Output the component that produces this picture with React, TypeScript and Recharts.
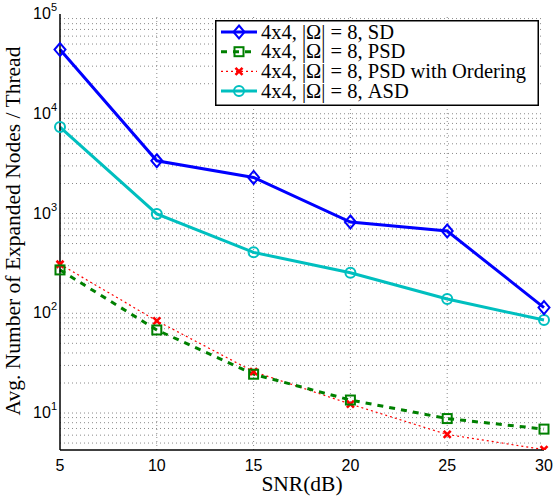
import { LineChart, Line, XAxis, YAxis, ReferenceLine } from 'recharts';
import type { ReactElement } from 'react';

const snr = [5, 10, 15, 20, 25, 30];
const sd = [44000, 3380, 2300, 822, 668, 114];
const psd = [272, 68, 24.5, 13.5, 8.8, 6.9];
const psdOrdering = [310, 84, 26, 12.3, 6.1, 4.3];
const asd = [7360, 990, 408, 255, 139, 85.5];

const xTicks = [5, 10, 15, 20, 25, 30];
const yTicks = [10, 100, 1000, 10000, 100000];
const yMin = 4.26;
const yMax = 100000;

const seriesNames = [
  '4x4, |\u03a9| = 8, SD',
  '4x4, |\u03a9| = 8, PSD',
  '4x4, |\u03a9| = 8, PSD with Ordering',
  '4x4, |\u03a9| = 8, ASD',
];

const data = snr.map((x, i) => ({
  snr: x,
  sd: sd[i],
  psd: psd[i],
  psdOrd: psdOrdering[i],
  asd: asd[i],
}));

// minor grid: 1..9 x 10^k inside the visible range
const minorY: number[] = [];
for (let k = 0; k <= 4; k++) {
  for (let m = 1; m <= 9; m++) {
    const v = m * Math.pow(10, k);
    if (v > yMin && v <= yMax) minorY.push(v);
  }
}

const BLUE = '#0000ff';
const GREEN = '#008000';
const RED = '#ff0000';
const CYAN = '#00bfbf';
const SERIF = '"Liberation Serif", "Times New Roman", serif';
const SANS = '"Liberation Sans", Arial, sans-serif';
const gridStroke = '#8a8a8a';

type MarkerKind = 'diamond' | 'square' | 'x' | 'circle';

function marker(kind: MarkerKind, cx: number, cy: number, color: string, key?: string | number): ReactElement {
  if (kind === 'diamond') {
    return (
      <path key={key} d={`M${cx},${cy - 6.5}L${cx + 5.5},${cy}L${cx},${cy + 6.5}L${cx - 5.5},${cy}Z`}
        fill="none" stroke={color} strokeWidth={2} />
    );
  }
  if (kind === 'square') {
    return <rect key={key} x={cx - 4.5} y={cy - 4.5} width={9} height={9} fill="none" stroke={color} strokeWidth={2} />;
  }
  if (kind === 'circle') {
    return <circle key={key} cx={cx} cy={cy} r={5} fill="none" stroke={color} strokeWidth={2} />;
  }
  return (
    <path key={key} d={`M${cx - 3.5},${cy - 3.5}L${cx + 3.5},${cy + 3.5}M${cx + 3.5},${cy - 3.5}L${cx - 3.5},${cy + 3.5}`}
      stroke={color} strokeWidth={2.6} />
  );
}

function dotFor(kind: MarkerKind, color: string) {
  return (props: Record<string, unknown>): ReactElement => {
    const cx = Number(props.cx ?? 0);
    const cy = Number(props.cy ?? 0);
    return marker(kind, cx, cy, color, String(props.index));
  };
}

function LogTick(props: { x?: number; y?: number; payload?: { value: number } }) {
  const { x = 0, y = 0, payload } = props;
  const exp = Math.round(Math.log10(payload?.value ?? 1));
  return (
    <text x={x} y={y + 5} textAnchor="end" fontFamily={SANS} fontSize={16} fill="#000">
      <tspan>10</tspan>
      <tspan dy={-8} fontSize={11}>{exp}</tspan>
    </text>
  );
}

const legendRows: { kind: MarkerKind; color: string; width: number; dash?: string }[] = [
  { kind: 'diamond', color: BLUE, width: 3 },
  { kind: 'square', color: GREEN, width: 3, dash: '6 6' },
  { kind: 'x', color: RED, width: 1.2, dash: '2 3' },
  { kind: 'circle', color: CYAN, width: 3 },
];

function LegendBox() {
  return (
    <svg width={324} height={86} style={{ display: 'block' }}>
      <rect x={0.75} y={0.75} width={322.5} height={84.5} fill="#fff" stroke="#000" strokeWidth={1.5} />
      {legendRows.map((r, i) => {
        const cy = 12 + i * 19.7;
        return (
          <g key={i}>
            <line x1={6} x2={42} y1={cy} y2={cy} stroke={r.color} strokeWidth={r.width} strokeDasharray={r.dash} />
            {marker(r.kind, 24, cy, r.color)}
            <text x={46} y={cy + 6.5} fontFamily={SERIF} fontSize={20.5} fill="#000">{seriesNames[i]}</text>
          </g>
        );
      })}
    </svg>
  );
}

export default function App() {
  return (
    <div style={{ position: 'absolute', left: 0, top: 0, width: 555, height: 498, background: '#fff' }}>
      <LineChart width={555} height={498} data={data} margin={{ top: 14, right: 11, bottom: 8, left: 8 }}>
        {xTicks.slice(1, -1).map((v) => (
          <ReferenceLine key={`vx${v}`} x={v} stroke={gridStroke} strokeDasharray="1 3" />
        ))}
        {minorY.map((v) => (
          <ReferenceLine key={`hy${v}`} y={v} stroke={gridStroke} strokeDasharray="1 3" />
        ))}
        <XAxis dataKey="snr" type="number" domain={[5, 30]} ticks={xTicks} height={40}
          tickSize={0} tickMargin={10} axisLine={{ stroke: '#000', strokeWidth: 1.5 }}
          tick={{ fontFamily: SANS, fontSize: 16, fill: '#000' }}
          label={{ value: 'SNR(dB)', position: 'insideBottom', offset: -1, fontFamily: SERIF, fontSize: 21.5, fill: '#000' }} />
        <XAxis xAxisId="top" orientation="top" dataKey="snr" type="number" domain={[5, 30]} ticks={xTicks}
          height={0} tickSize={-5} tick={false} axisLine={{ stroke: '#000', strokeWidth: 1.5 }} stroke="#000" />
        <YAxis scale="log" domain={[yMin, yMax]} allowDataOverflow ticks={yTicks} width={52}
          tickSize={0} tickMargin={3} tick={<LogTick />} axisLine={{ stroke: '#000', strokeWidth: 1.5 }}
          label={{
            content: () => (
              <text transform="translate(19.5,231) rotate(-90)" textAnchor="middle" fontFamily={SERIF}
                fontSize={21.5} fill="#000">Avg. Number of Expanded Nodes / Thread</text>
            ),
          }} />
        <YAxis yAxisId="right" orientation="right" scale="log" domain={[yMin, yMax]} allowDataOverflow
          ticks={minorY} width={0} tickSize={-4} tick={false} axisLine={{ stroke: '#000', strokeWidth: 1.5 }} stroke="#000" />
        <Line dataKey="psdOrd" stroke={RED} strokeWidth={1.2} strokeDasharray="2 3" isAnimationActive={false}
          dot={dotFor('x', RED)} activeDot={false} />
        <Line dataKey="psd" stroke={GREEN} strokeWidth={3} strokeDasharray="6 6" isAnimationActive={false}
          dot={dotFor('square', GREEN)} activeDot={false} />
        <Line dataKey="asd" stroke={CYAN} strokeWidth={3} isAnimationActive={false}
          dot={dotFor('circle', CYAN)} activeDot={false} />
        <Line dataKey="sd" stroke={BLUE} strokeWidth={3} isAnimationActive={false}
          dot={dotFor('diamond', BLUE)} activeDot={false} />
      </LineChart>
      <div style={{ position: 'absolute', left: 215, top: 20 }}>
        <LegendBox />
      </div>
    </div>
  );
}
